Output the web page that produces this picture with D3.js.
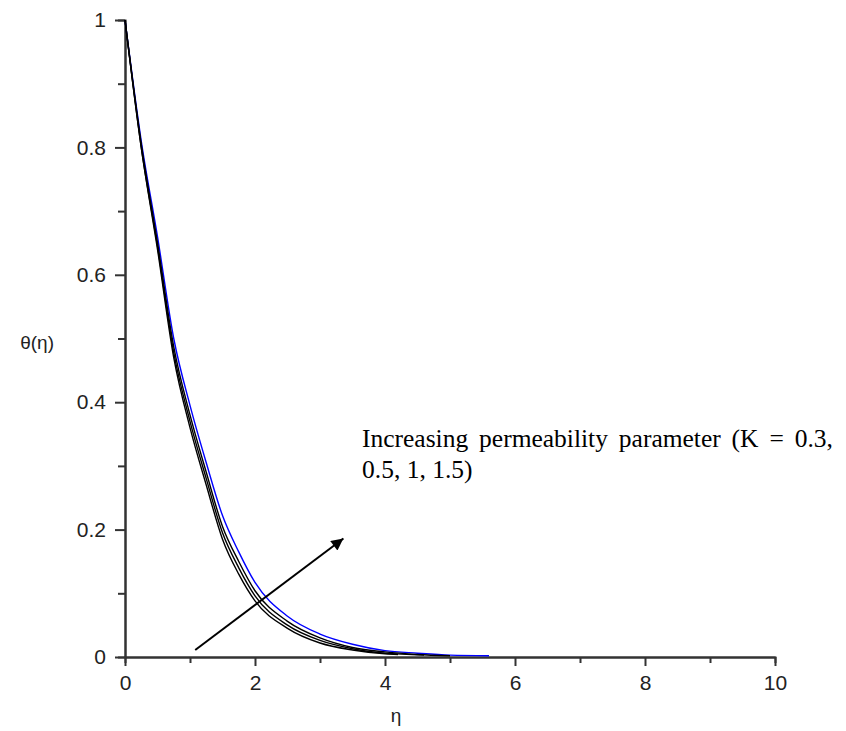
<!DOCTYPE html>
<html>
<head>
<meta charset="utf-8">
<script src="https://cdn.jsdelivr.net/npm/d3@7"></script>
<style>
  html, body { margin: 0; padding: 0; background: #fff; }
  svg { display: block; }
</style>
</head>
<body>
<svg id="chart" width="846" height="731"></svg>
<script>
// ---- data ----
const etaK03 = [0, 0.25, 0.5, 0.75, 1.0, 1.25, 1.5, 1.75, 2.0, 2.5, 3.0, 3.5, 4.0, 4.2];
const thetaK03 = [1, 0.80, 0.64, 0.47, 0.36, 0.27, 0.185, 0.13, 0.088, 0.045, 0.022, 0.011, 0.005, 0.004];

const etaK05 = [0, 0.25, 0.5, 0.75, 1.0, 1.25, 1.5, 1.75, 2.0, 2.5, 3.0, 3.5, 4.0, 4.6];
const thetaK05 = [1, 0.80, 0.645, 0.478, 0.37, 0.28, 0.195, 0.14, 0.096, 0.05, 0.026, 0.013, 0.006, 0.003];

const etaK1 = [0, 0.25, 0.5, 0.75, 1.0, 1.25, 1.5, 1.75, 2.0, 2.5, 3.0, 3.5, 4.0, 4.5, 5.0];
const thetaK1 = [1, 0.805, 0.65, 0.487, 0.38, 0.29, 0.205, 0.15, 0.104, 0.056, 0.03, 0.015, 0.008, 0.004, 0.002];

const etaK15 = [0, 0.25, 0.5, 0.75, 1.0, 1.25, 1.5, 1.75, 2.0, 2.5, 3.0, 3.5, 4.0, 4.5, 5.0, 5.6];
const thetaK15 = [1, 0.81, 0.66, 0.50, 0.395, 0.305, 0.222, 0.165, 0.117, 0.064, 0.036, 0.02, 0.01, 0.006, 0.003, 0.002];

const seriesNames = ["K = 0.3", "K = 0.5", "K = 1", "K = 1.5"];
const seriesColors = ["#000000", "#000000", "#000000", "#0000ff"];

const xMajorTicks = [0, 2, 4, 6, 8, 10];
const xMinorTicks = [1, 3, 5, 7, 9];
const yMajorTicks = [0, 0.2, 0.4, 0.6, 0.8, 1];
const yMinorTicks = [0.1, 0.3, 0.5, 0.7, 0.9];

const xLabel = "η";
const yLabel = "θ(η)";
const noteLines = ["Increasing permeability parameter (K = 0.3,", "0.5, 1, 1.5)"];
// arrow from / to in data units
const arrowFrom = [1.08, 0.011];
const arrowTo = [3.36, 0.186];

// ---- layout ----
const svg = d3.select("#chart");
const x = d3.scaleLinear().domain([0, 10]).range([125, 775]);
const y = d3.scaleLinear().domain([0, 1]).range([657, 20]);

const axisColor = "#333";
const tickFont = "'Liberation Sans', Arial, sans-serif";

function styleAxis(g) {
  g.select(".domain").attr("stroke", axisColor).attr("stroke-width", 2);
  g.selectAll(".tick line").attr("stroke", axisColor).attr("stroke-width", 2);
  g.selectAll(".tick text").attr("fill", "#222")
    .style("font-family", tickFont).style("font-size", "21px");
}

// minor ticks
svg.append("g").attr("transform", "translate(0,657)")
  .call(d3.axisBottom(x).tickValues(xMinorTicks).tickSize(6).tickFormat(""))
  .call(styleAxis);
svg.append("g").attr("transform", "translate(125,0)")
  .call(d3.axisLeft(y).tickValues(yMinorTicks).tickSize(7).tickFormat(""))
  .call(styleAxis);

// major ticks
svg.append("g").attr("transform", "translate(0,657)")
  .call(d3.axisBottom(x).tickValues(xMajorTicks).tickSize(9).tickSizeOuter(0).tickPadding(9).tickFormat(d3.format("d")))
  .call(styleAxis);
svg.append("g").attr("transform", "translate(125,0)")
  .call(d3.axisLeft(y).tickValues(yMajorTicks).tickSize(10).tickSizeOuter(0).tickPadding(9).tickFormat(d => d === 0 || d === 1 ? d3.format("d")(d) : d3.format(".1f")(d)))
  .call(styleAxis);

// curves
const allEta = [etaK03, etaK05, etaK1, etaK15];
const allTheta = [thetaK03, thetaK05, thetaK1, thetaK15];
const line = d3.line().x(d => x(d[0])).y(d => y(d[1])).curve(d3.curveMonotoneX);
const order = [3, 2, 1, 0];
order.forEach(i => {
  const pts = allEta[i].map((e, j) => [e, allTheta[i][j]]);
  svg.append("path").datum(pts)
    .attr("d", line)
    .attr("fill", "none")
    .attr("stroke", seriesColors[i])
    .attr("stroke-width", 1.4)
    .attr("data-name", seriesNames[i]);
});

// arrow
const defs = svg.append("defs");
defs.append("marker").attr("id", "ah")
  .attr("viewBox", "0 0 10 10").attr("refX", 10).attr("refY", 5)
  .attr("markerWidth", 16).attr("markerHeight", 12).attr("markerUnits", "userSpaceOnUse")
  .attr("orient", "auto")
  .append("path").attr("d", "M0,0 L10,5 L0,10 Z").attr("fill", "#000");
svg.append("line")
  .attr("x1", x(arrowFrom[0])).attr("y1", y(arrowFrom[1]))
  .attr("x2", x(arrowTo[0])).attr("y2", y(arrowTo[1]))
  .attr("stroke", "#000").attr("stroke-width", 2)
  .attr("marker-end", "url(#ah)");

// annotation text (first line justified in the source, hence the wider word spacing)
const note = svg.append("text")
  .attr("x", 362).attr("y", 447)
  .style("font-family", "'Liberation Serif', 'Times New Roman', serif")
  .style("font-size", "25.5px").attr("fill", "#000");
noteLines.forEach((t, i) => {
  note.append("tspan").attr("x", 362).attr("y", 447 + i * 31)
    .style("word-spacing", i === 0 ? "4.5px" : "0px")
    .text(t);
});

// axis labels
svg.append("text").attr("x", 396).attr("y", 722).attr("text-anchor", "middle")
  .style("font-family", tickFont).style("font-size", "19px").attr("fill", "#222")
  .text(xLabel);
svg.append("text").attr("x", 54).attr("y", 349).attr("text-anchor", "end")
  .style("font-family", tickFont).style("font-size", "19px").attr("fill", "#222")
  .text(yLabel);
</script>
</body>
</html>
